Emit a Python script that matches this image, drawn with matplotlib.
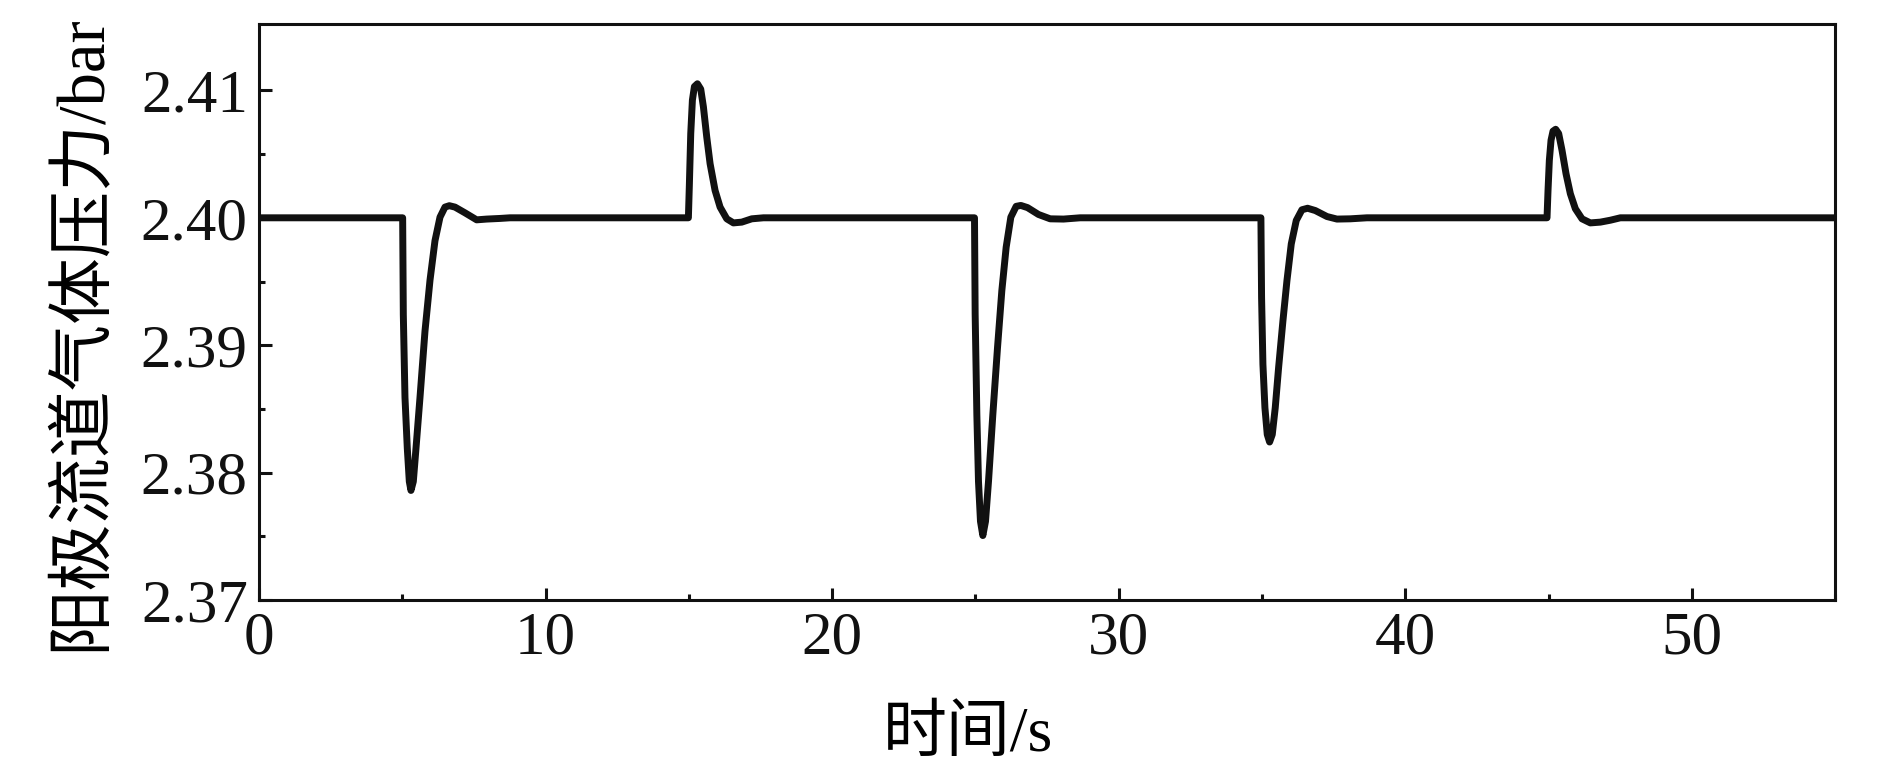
import numpy as np
import matplotlib
matplotlib.use("Agg")
import matplotlib.pyplot as plt

plt.rcParams['font.family'] = ['Liberation Serif', 'Noto Sans CJK SC']

# 读图得到的点（时间 s，压力 bar）
t_start = [0.0]
p_start = [2.400]

# 5 s 处下冲
t_dip1 = [5.015, 5.038, 5.096, 5.177, 5.247, 5.305, 5.387, 5.480, 5.620, 5.794, 5.969,
          6.143, 6.318, 6.492, 6.643, 6.841, 7.190, 7.597, 7.947, 8.412, 8.761]
p_dip1 = [2.4000, 2.3924, 2.3859, 2.3819, 2.3793, 2.3786, 2.3793, 2.3819, 2.3859, 2.3911, 2.3951,
          2.3982, 2.40005, 2.40084, 2.40095, 2.40084, 2.40039, 2.39984, 2.39990, 2.39995, 2.4000]

# 15 s 处上冲
t_pk1 = [14.985, 15.020, 15.067, 15.125, 15.195, 15.300, 15.416, 15.509, 15.625, 15.742,
         15.916, 16.091, 16.324, 16.556, 16.847, 17.196, 17.603]
p_pk1 = [2.4000, 2.40267, 2.40661, 2.40924, 2.41030, 2.41052, 2.41010, 2.40871, 2.40635, 2.40425,
         2.40215, 2.40084, 2.39992, 2.39960, 2.39966, 2.39992, 2.4000]

# 25 s 处下冲
t_dip2 = [24.968, 24.991, 25.050, 25.107, 25.177, 25.259, 25.352, 25.457, 25.608, 25.771, 25.922,
          26.073, 26.236, 26.422, 26.585, 26.818, 27.202, 27.609, 28.075, 28.656]
p_dip2 = [2.4000, 2.39244, 2.38456, 2.37932, 2.37617, 2.37506, 2.37617, 2.37932, 2.38456, 2.38981,
          2.39428, 2.39769, 2.40005, 2.40090, 2.40097, 2.40080, 2.40026, 2.39992, 2.39990, 2.4000]

# 35 s 处下冲
t_dip3 = [34.962, 34.985, 35.032, 35.102, 35.183, 35.265, 35.358, 35.462, 35.579, 35.730, 35.870,
          36.021, 36.195, 36.393, 36.591, 36.859, 37.266, 37.615, 38.080, 38.662]
p_dip3 = [2.4000, 2.39375, 2.38850, 2.38509, 2.38299, 2.38240, 2.38299, 2.38509, 2.38824, 2.39191,
          2.39506, 2.39795, 2.39979, 2.40063, 2.40075, 2.40057, 2.40010, 2.39990, 2.39992, 2.4000]

# 45 s 处上冲
t_pk2 = [44.945, 44.980, 45.026, 45.085, 45.154, 45.247, 45.352, 45.468, 45.608, 45.759,
         45.934, 46.166, 46.457, 46.806, 47.155, 47.504]
p_pk2 = [2.4000, 2.40215, 2.40451, 2.40609, 2.40680, 2.40695, 2.40661, 2.40530, 2.40346, 2.40189,
         2.40071, 2.39992, 2.39960, 2.39966, 2.39981, 2.40000]

t_end = [55.0]
p_end = [2.400]

t = t_start + t_dip1 + t_pk1 + t_dip2 + t_dip3 + t_pk2 + t_end
p = p_start + p_dip1 + p_pk1 + p_dip2 + p_dip3 + p_pk2 + p_end

x_ticks = [0, 10, 20, 30, 40, 50]
y_ticks = [2.37, 2.38, 2.39, 2.40, 2.41]
y_labels = ['2.37', '2.38', '2.39', '2.40', '2.41']

fig = plt.figure(figsize=(18.9, 7.74), dpi=100)
ax = fig.add_axes([0.137, 0.2248, 0.834, 0.744])

ax.plot(t, p, color='#111111', lw=5.0, solid_joinstyle='round', solid_capstyle='round')

ax.set_xlim(0, 55)
ax.set_ylim(2.37, 2.4152)
ax.set_xticks(x_ticks)
ax.set_xticks([5, 15, 25, 35, 45, 55], minor=True)
ax.set_yticks(y_ticks)
ax.set_yticklabels(y_labels)
ax.set_yticks([2.375, 2.385, 2.395, 2.405], minor=True)

ax.tick_params(which='both', direction='in', top=False, right=False, width=2.2,
               labelsize=44, colors='#111111')
ax.tick_params(which='major', length=9, pad=8)
ax.tick_params(which='minor', length=4.5)
for s in ax.spines.values():
    s.set_linewidth(2.2)
    s.set_color('#111111')

ax.set_xlabel('时间/s', fontsize=46)
ax.xaxis.set_label_coords(0.45, -0.185)
ax.set_ylabel('阳极流道气体压力/bar', fontsize=48)
ax.yaxis.set_label_coords(-0.092, 0.465)

fig.savefig('out.png', dpi=100)
